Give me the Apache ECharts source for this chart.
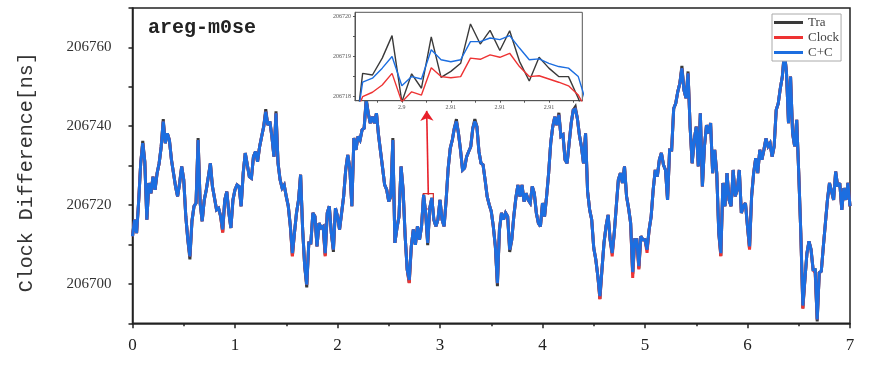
<!DOCTYPE html>
<html>
<head>
<meta charset="utf-8">
<script src="https://cdn.jsdelivr.net/npm/echarts/dist/echarts.min.js"></script>
<style>html,body{margin:0;padding:0;background:#fff;}#c{width:893px;height:369px;}</style>
</head>
<body>
<div id="c"></div>
<script>
// ---------------- data ----------------
const STEP = 0.02; // sample spacing of the main series (x units)
const seriesNames = ['Tra', 'Clock', 'C+C'];

const ccValues = [
206712.1,206716.3,206712.9,206720.9,206730.6,206735.7,206731.0,206716.3,206725.6,206723.0,
206727.2,206723.9,206728.1,206730.6,206734.8,206741.2,206735.7,206738.2,206736.5,206731.5,
206728.1,206724.7,206722.2,206725.6,206729.8,206726.4,206717.1,206711.2,206707.0,206715.9,
206719.7,206720.5,206736.5,206720.5,206715.9,206721.3,206723.9,206727.2,206730.6,206724.7,
206721.8,206718.8,206719.2,206717.1,206713.8,206721.3,206723.4,206718.0,206714.2,206721.3,
206723.9,206725.1,206724.7,206719.7,206728.1,206733.2,206730.2,206727.2,206726.8,206732.3,
206733.6,206731.0,206734.8,206737.4,206739.9,206743.7,206740.3,206741.2,206737.4,206732.3,
206743.3,206730.6,206726.4,206724.3,206725.1,206722.2,206719.7,206714.6,206707.8,206712.9,
206718.0,206721.3,206727.7,206713.8,206704.5,206699.8,206710.4,206710.4,206718.0,206717.1,
206709.5,206715.4,206714.2,206714.6,206707.8,206718.0,206719.7,206712.9,206708.7,206719.2,
206717.1,206713.8,206718.0,206722.2,206728.9,206732.7,206729.4,206719.7,206737.0,206734.0,
206737.4,206736.5,206739.1,206739.5,206746.5,206743.3,206740.8,206742.4,206740.8,206743.3,
206737.8,206733.6,206729.4,206725.1,206723.9,206720.9,206722.2,206736.5,206710.4,206714.2,
206717.1,206729.8,206723.9,206712.1,206703.6,206701.0,206709.5,206713.8,206709.9,206714.6,
206711.2,206714.6,206722.6,206718.0,206710.4,206719.2,206721.8,206716.3,206714.6,206716.3,
206721.3,206716.3,206714.6,206721.3,206729.4,206734.4,206736.5,206739.5,206741.2,206738.2,
206734.0,206728.9,206729.4,206732.3,206733.6,206734.8,206739.5,206741.2,206739.9,206733.6,
206730.6,206730.2,206726.4,206722.2,206720.1,206718.4,206714.6,206709.5,206700.2,206713.8,
206718.0,206716.3,206718.0,206717.1,206708.7,206711.2,206717.1,206721.8,206725.1,206722.2,
206725.1,206720.9,206723.0,206721.3,206720.5,206724.7,206723.0,206718.0,206715.4,206714.6,
206720.5,206717.1,206722.2,206728.1,206735.7,206739.9,206742.4,206740.3,206742.9,206737.4,
206737.8,206731.5,206730.6,206735.7,206740.8,206744.1,206744.3,206742.0,206737.8,206734.8,
206730.6,206738.2,206723.4,206718.8,206716.3,206709.1,206706.2,206701.9,206696.9,206703.6,
206710.4,206714.6,206717.5,206711.2,206707.8,206712.9,206719.7,206726.4,206728.1,206725.6,
206729.8,206722.2,206719.2,206715.4,206703.0,206711.2,206711.2,206704.5,206712.1,206711.2,
206711.2,206708.7,206713.7,206717.1,206723.9,206728.9,206727.2,206731.5,206733.2,206730.2,
206728.9,206721.3,206734.0,206734.0,206744.5,206745.8,206748.8,206750.9,206754.7,206749.2,
206747.1,206753.4,206739.9,206730.6,206736.5,206739.9,206729.8,206743.3,206724.7,206734.9,
206740.3,206738.2,206740.8,206728.1,206734.0,206728.1,206712.9,206707.8,206725.6,206719.7,
206728.1,206721.3,206719.7,206728.9,206722.2,206723.9,206728.9,206718.0,206719.7,206720.5,
206714.6,206709.5,206722.2,206728.1,206731.9,206728.1,206734.0,206731.5,206734.0,206736.9,
206734.9,206735.7,206732.3,206734.9,206744.1,206745.8,206749.6,206752.6,206758.5,206753.8,
206740.8,206752.6,206738.2,206734.9,206741.6,206728.1,206712.9,206694.5,206701.1,206707.8,
206710.8,206708.7,206703.6,206703.6,206691.0,206702.8,206703.2,206709.5,206715.4,206721.3,
206725.6,206723.5,206721.3,206728.5,206724.7,206725.6,206718.8,206724.3,206721.3,206725.6,
206719.7
];

const traValues = [
206712.1,206716.3,206712.9,206720.9,206730.6,206736.3,206731.0,206716.3,206725.6,206723.0,
206727.2,206723.9,206728.1,206730.6,206734.8,206741.8,206735.7,206738.2,206736.5,206731.5,
206728.1,206724.7,206722.2,206725.6,206729.8,206726.4,206717.1,206711.2,206706.2,206715.9,
206719.7,206720.5,206737.0,206720.5,206715.9,206721.3,206723.9,206727.2,206730.6,206724.7,
206721.8,206718.8,206719.2,206717.1,206713.1,206721.3,206723.4,206718.0,206714.2,206721.3,
206723.9,206725.1,206724.7,206719.7,206728.1,206733.2,206730.2,206727.2,206726.8,206732.3,
206733.6,206731.0,206734.8,206737.4,206739.9,206744.3,206740.3,206741.2,206737.4,206732.3,
206743.8,206730.6,206726.4,206724.3,206725.1,206722.2,206719.7,206714.6,206707.1,206712.9,
206718.0,206721.3,206727.7,206713.8,206704.5,206699.1,206710.4,206710.4,206718.0,206717.1,
206709.5,206715.4,206714.2,206714.6,206707.2,206718.0,206719.7,206712.9,206708.1,206719.2,
206717.1,206713.8,206718.0,206722.2,206728.9,206732.7,206729.4,206719.7,206737.0,206734.0,
206737.4,206736.5,206739.1,206739.5,206747.1,206743.3,206740.8,206742.4,206740.8,206743.3,
206737.8,206733.6,206729.4,206725.1,206723.9,206720.9,206722.2,206737.0,206710.4,206714.2,
206717.1,206729.8,206723.9,206712.1,206703.6,206700.3,206709.5,206713.8,206709.9,206714.6,
206711.2,206714.6,206722.6,206718.0,206709.8,206719.2,206721.8,206716.3,206714.6,206716.3,
206721.3,206716.3,206714.6,206721.3,206729.4,206734.4,206736.5,206739.5,206741.8,206738.2,
206734.0,206728.9,206729.4,206732.3,206733.6,206734.8,206739.5,206741.8,206739.9,206733.6,
206730.6,206730.2,206726.4,206722.2,206720.1,206718.4,206714.6,206709.5,206699.4,206713.8,
206718.0,206716.3,206718.0,206717.1,206708.1,206711.2,206717.1,206721.8,206725.1,206722.2,
206725.1,206720.9,206723.0,206721.3,206720.5,206724.7,206723.0,206718.0,206715.4,206714.6,
206720.5,206717.1,206722.2,206728.1,206735.7,206739.9,206742.4,206740.3,206743.4,206737.4,
206737.8,206731.5,206730.6,206735.7,206740.8,206744.1,206744.9,206742.0,206737.8,206734.8,
206730.6,206738.2,206723.4,206718.8,206716.3,206709.1,206706.2,206701.9,206696.2,206703.6,
206710.4,206714.6,206717.5,206711.2,206707.8,206712.9,206719.7,206726.4,206728.1,206725.6,
206729.8,206722.2,206719.2,206715.4,206702.5,206711.2,206711.2,206703.9,206712.1,206711.2,
206711.2,206708.7,206713.7,206717.1,206723.9,206728.9,206727.2,206731.5,206733.2,206730.2,
206728.9,206721.3,206734.0,206734.0,206744.5,206745.8,206748.8,206750.9,206755.3,206749.2,
206747.1,206753.9,206739.9,206730.6,206736.5,206739.9,206729.8,206743.3,206724.7,206734.9,
206740.3,206738.2,206740.8,206728.1,206734.0,206728.1,206712.9,206707.1,206725.6,206719.7,
206728.1,206721.3,206719.7,206728.9,206722.2,206723.9,206728.9,206718.0,206719.7,206720.5,
206714.6,206708.9,206722.2,206728.1,206731.9,206728.1,206734.0,206731.5,206734.0,206736.9,
206734.9,206735.7,206732.3,206734.9,206744.1,206745.8,206749.6,206752.6,206759.1,206753.8,
206740.8,206752.6,206738.2,206734.9,206741.6,206728.1,206712.9,206693.8,206701.1,206707.8,
206710.8,206708.7,206703.6,206703.6,206690.5,206702.8,206703.2,206709.5,206715.4,206721.3,
206725.6,206723.5,206721.3,206728.5,206724.7,206725.6,206718.8,206724.3,206721.3,206725.6,
206719.7
];

const clockValues = [
206712.1,206716.3,206712.9,206720.9,206730.6,206735.7,206731.0,206716.3,206725.6,206723.0,
206727.2,206723.9,206728.1,206730.6,206734.8,206741.2,206735.7,206738.2,206736.5,206731.5,
206728.1,206724.7,206722.2,206725.6,206729.8,206726.4,206717.1,206711.2,206707.0,206715.9,
206719.7,206720.5,206736.5,206720.5,206715.9,206721.3,206723.9,206727.2,206730.6,206724.7,
206721.8,206718.8,206719.2,206717.1,206713.0,206721.3,206723.4,206718.0,206714.2,206721.3,
206723.9,206725.1,206724.7,206719.7,206728.1,206733.2,206730.2,206727.2,206726.8,206732.3,
206733.6,206731.0,206734.8,206737.4,206739.9,206743.7,206740.3,206741.2,206737.4,206732.3,
206743.3,206730.6,206726.4,206724.3,206725.1,206722.2,206719.7,206714.6,206707.0,206712.9,
206718.0,206721.3,206727.7,206713.8,206704.5,206699.8,206710.4,206710.4,206718.0,206717.1,
206709.5,206715.4,206714.2,206714.6,206707.0,206718.0,206719.7,206712.9,206708.7,206719.2,
206717.1,206713.8,206718.0,206722.2,206728.9,206732.7,206729.4,206719.7,206737.0,206734.0,
206737.4,206736.5,206739.1,206739.5,206746.5,206743.3,206740.8,206742.4,206740.8,206743.3,
206737.8,206733.6,206729.4,206725.1,206723.9,206720.9,206722.2,206736.5,206710.4,206714.2,
206717.1,206729.8,206723.9,206712.1,206703.6,206700.2,206709.5,206713.8,206709.9,206714.6,
206711.2,206714.6,206722.6,206718.0,206710.4,206719.2,206721.8,206716.3,206714.6,206716.3,
206721.3,206716.3,206714.6,206721.3,206729.4,206734.4,206736.5,206739.5,206741.2,206738.2,
206734.0,206728.9,206729.4,206732.3,206733.6,206734.8,206739.5,206741.2,206739.9,206733.6,
206730.6,206730.2,206726.4,206722.2,206720.1,206718.4,206714.6,206709.5,206700.2,206713.8,
206718.0,206716.3,206718.0,206717.1,206708.7,206711.2,206717.1,206721.8,206725.1,206722.2,
206725.1,206720.9,206723.0,206721.3,206720.5,206724.7,206723.0,206718.0,206715.4,206714.6,
206720.5,206717.1,206722.2,206728.1,206735.7,206739.9,206742.4,206740.3,206742.9,206737.4,
206737.8,206731.5,206730.6,206735.7,206740.8,206744.1,206744.3,206742.0,206737.8,206734.8,
206730.6,206738.2,206723.4,206718.8,206716.3,206709.1,206706.2,206701.9,206696.1,206703.6,
206710.4,206714.6,206717.5,206711.2,206707.0,206712.9,206719.7,206726.4,206728.1,206725.6,
206729.8,206722.2,206719.2,206715.4,206701.5,206711.2,206711.2,206703.7,206712.1,206711.2,
206711.2,206707.9,206713.7,206717.1,206723.9,206728.9,206727.2,206731.5,206733.2,206730.2,
206728.9,206721.3,206734.0,206734.0,206744.5,206745.8,206748.8,206750.9,206754.7,206749.2,
206747.1,206753.4,206739.9,206730.6,206736.5,206739.9,206729.8,206743.3,206724.7,206734.9,
206740.3,206738.2,206740.8,206728.1,206734.0,206728.1,206712.9,206707.0,206725.6,206719.7,
206728.1,206721.3,206719.7,206728.9,206722.2,206723.9,206728.9,206718.0,206719.7,206720.5,
206714.6,206708.7,206722.2,206728.1,206731.9,206728.1,206734.0,206731.5,206734.0,206736.9,
206734.9,206735.7,206732.3,206734.9,206744.1,206745.8,206749.6,206752.6,206758.5,206753.8,
206740.8,206752.6,206738.2,206734.9,206741.6,206728.1,206712.9,206693.7,206701.1,206707.8,
206710.8,206708.7,206703.6,206702.8,206691.0,206702.8,206703.2,206709.5,206715.4,206721.3,
206725.6,206723.5,206721.3,206728.5,206724.7,206725.6,206718.8,206724.3,206721.3,206725.6,
206719.7
];

// inset (zoomed window)
const insetTimes = [2.895,2.896,2.897,2.898,2.899,2.900,2.901,2.902,2.903,2.904,2.905,2.906,2.907,
  2.908,2.909,2.910,2.911,2.912,2.913,2.914,2.915,2.916,2.917,2.918,2.919];
const insetTra = [206716.5,206718.58,206718.54,206718.96,206719.52,206717.87,206718.57,206718.21,206719.49,
  206718.48,206718.63,206718.83,206719.81,206719.31,206719.65,206719.15,206719.64,206718.88,206718.39,
  206718.98,206718.71,206718.50,206718.50,206717.96,206717.3];
const insetClock = [206717.4,206718.00,206718.11,206718.29,206718.58,206717.87,206718.12,206718.04,206718.72,
  206718.50,206718.47,206718.50,206718.96,206718.93,206719.04,206718.98,206719.08,206718.75,206718.50,
  206718.52,206718.44,206718.36,206718.27,206718.04,206717.6];
const insetCC = [206716.74,206718.36,206718.46,206718.71,206719.00,206718.27,206718.50,206718.44,206719.17,
  206718.92,206718.87,206718.92,206719.37,206719.37,206719.46,206719.42,206719.52,206719.21,206718.92,
  206718.94,206718.83,206718.75,206718.71,206718.50,206717.7];
const insetXRange = [2.89522, 2.91841];
const insetYRange = [206717.9, 206720.1];
const insetLabelX = [2.9, 2.905, 2.91, 2.915];
const insetLabelText = ['2.9', '2.91', '2.91', '2.91'];
const insetTickX = [2.8975, 2.9, 2.9025, 2.905, 2.9075, 2.91, 2.9125, 2.915, 2.9175];
const insetLabelY = [206718, 206719, 206720];
const insetTickY = [206718, 206718.5, 206719, 206719.5, 206720];

// annotations (data coordinates)
const zoomBoxX = [2.837, 2.935];
const zoomBoxY = [206719.0, 206722.9];
const arrowStart = [2.886, 206722.6];
const arrowEnd = [2.870, 206743.9];

// ---------------- chart ----------------
const times = ccValues.map((_, i) => +(i * STEP).toFixed(2));
const pairs = (xs, ys) => ys.map((v, i) => [xs[i], v]);

const colors = { 'Tra': '#3a3a3a', 'Clock': '#ee3333', 'C+C': '#1c6ee0' };
const serif = 'Liberation Serif';
const mono = 'Liberation Mono';

const chart = echarts.init(document.getElementById('c'), null, { renderer: 'canvas', width: 893, height: 369 });

const mainData = { 'Tra': traValues, 'Clock': clockValues, 'C+C': ccValues };
const insetData = { 'Tra': insetTra, 'Clock': insetClock, 'C+C': insetCC };

const series = [];
seriesNames.forEach((n, k) => {
  series.push({
    name: n, type: 'line', xAxisIndex: 0, yAxisIndex: 0,
    data: pairs(times, mainData[n]), showSymbol: false, symbol: 'none',
    lineStyle: { color: colors[n], width: 3, join: 'miter', miterLimit: 3 },
    itemStyle: { color: colors[n] }, z: 2 + k, silent: true
  });
});
series.push({
  type: 'line', xAxisIndex: 0, yAxisIndex: 0, data: [], z: 8, silent: true,
  markLine: {
    silent: true, symbol: ['none', 'arrow'], symbolSize: 10,
    label: { show: false },
    lineStyle: { color: '#e8202a', width: 1.6, type: 'solid' },
    data: [[{ coord: arrowStart }, { coord: arrowEnd }]]
  },
  markArea: {
    silent: true,
    itemStyle: { color: 'rgba(0,0,0,0)', borderColor: '#d42a2a', borderWidth: 1.2 },
    data: [[{ coord: [zoomBoxX[0], zoomBoxY[0]] }, { coord: [zoomBoxX[1], zoomBoxY[1]] }]]
  }
});
seriesNames.forEach((n, k) => {
  series.push({
    name: n, type: 'line', xAxisIndex: 1, yAxisIndex: 1,
    data: pairs(insetTimes, insetData[n]), showSymbol: false, symbol: 'none',
    lineStyle: { color: colors[n], width: 1.4 },
    itemStyle: { color: colors[n] }, z: 7, silent: true
  });
});

const option = {
  animation: false,
  backgroundColor: '#ffffff',
  title: {
    text: 'areg-m0se', left: 143, top: 13,
    textStyle: { fontFamily: mono, fontSize: 20, fontWeight: 'bold', color: '#222' }
  },
  legend: {
    orient: 'vertical', left: 772, top: 14, z: 10,
    backgroundColor: '#ffffff', borderColor: '#aaaaaa', borderWidth: 1,
    padding: [2, 2, 2, 2], itemWidth: 29, itemHeight: 3, itemGap: 2,
    textStyle: { fontFamily: serif, fontSize: 13, lineHeight: 13, color: '#444' },
    data: seriesNames.map(n => ({ name: n, icon: 'rect' }))
  },
  grid: [
    { left: 132.5, right: 43, top: 8, bottom: 45.7, show: true, borderColor: '#222', borderWidth: 1.5, backgroundColor: 'rgba(0,0,0,0)' },
    { left: 355, right: 310.7, top: 12.3, bottom: 268.3, show: true, borderColor: '#555', borderWidth: 1, backgroundColor: '#ffffff', z: 5 }
  ],
  xAxis: [
    {
      gridIndex: 0, type: 'value', min: 0, max: 7, interval: 1,
      axisLine: { onZero: false, lineStyle: { color: '#222', width: 1.5 } },
      axisTick: { length: 5, lineStyle: { color: '#222', width: 1.5 } },
      minorTick: { show: true, splitNumber: 2, length: 3, lineStyle: { color: '#222', width: 1.5 } },
      splitLine: { show: false }, minorSplitLine: { show: false },
      axisLabel: { fontFamily: serif, fontSize: 17, color: '#222', margin: 14 }
    },
    {
      gridIndex: 1, type: 'value', min: insetXRange[0], max: insetXRange[1], z: 7,
      axisLine: { onZero: false, lineStyle: { color: '#555', width: 1 } },
      axisTick: { customValues: insetTickX, length: 2, lineStyle: { color: '#555', width: 1 } },
      splitLine: { show: false },
      axisLabel: {
        customValues: insetLabelX, fontFamily: serif, fontSize: 6, color: '#555', margin: 4,
        formatter: v => { const k = insetLabelX.findIndex(t => Math.abs(t - v) < 1e-7); return k >= 0 ? insetLabelText[k] : ''; }
      }
    }
  ],
  yAxis: [
    {
      gridIndex: 0, type: 'value', min: 206690, max: 206770, interval: 10,
      name: 'Clock Difference[ns]', nameLocation: 'middle', nameGap: 96,
      nameTextStyle: { fontFamily: mono, fontSize: 20, color: '#333', padding: [0, 13, 0, 0] },
      axisLine: { onZero: false, lineStyle: { color: '#222', width: 1.5 } },
      axisTick: { length: 4, lineStyle: { color: '#222', width: 1.5 } },
      splitLine: { show: false },
      axisLabel: { fontFamily: serif, fontSize: 15, color: '#333', margin: 21,
        formatter: v => (v % 20 === 0 ? String(v) : '') }
    },
    {
      gridIndex: 1, type: 'value', min: insetYRange[0], max: insetYRange[1], z: 7,
      axisLine: { onZero: false, lineStyle: { color: '#555', width: 1 } },
      axisTick: { customValues: insetTickY, length: 2, lineStyle: { color: '#555', width: 1 } },
      splitLine: { show: false },
      axisLabel: { customValues: insetLabelY, fontFamily: serif, fontSize: 6, color: '#555', margin: 4,
        formatter: v => String(Math.round(v)) }
    }
  ],
  series: series
};
chart.setOption(option);
</script>
</body>
</html>
